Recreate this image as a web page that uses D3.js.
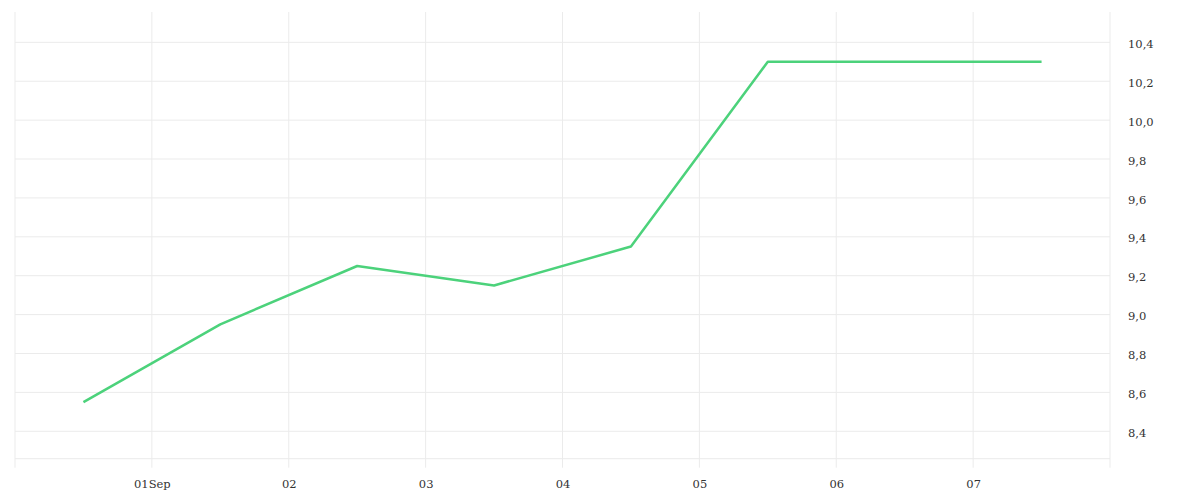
<!DOCTYPE html>
<html>
<head>
<meta charset="utf-8">
<script src="https://cdn.jsdelivr.net/npm/d3@7"></script>
<style>
  body { margin: 0; background: #fff; }
  svg text { font-family: "DejaVu Serif", serif; font-size: 11.5px; fill: #333; }
</style>
</head>
<body>
<div id="grafico"></div>
<script>
// Datos (puntos a mediodía de cada día)
const fechas = ["2023-08-31T12:00", "2023-09-01T12:00", "2023-09-02T12:00", "2023-09-03T12:00",
                "2023-09-04T12:00", "2023-09-05T12:00", "2023-09-06T12:00", "2023-09-07T12:00"];
const valores = [8.55, 8.95, 9.25, 9.15, 9.35, 10.3, 10.3, 10.3];
const yTicks = [8.4, 8.6, 8.8, 9.0, 9.2, 9.4, 9.6, 9.8, 10.0, 10.2, 10.4];
const xDominio = ["2023-08-31T00:00", "2023-09-08T00:00"];
const yDominio = [8.259, 10.556];

const parse = d3.timeParse("%Y-%m-%dT%H:%M");
const datos = fechas.map((f, i) => ({ fecha: parse(f), valor: valores[i] }));

const width = 1200, height = 500;
const margen = { left: 15, right: 1110, top: 12, bottom: 458.7 };

const svg = d3.select("#grafico")
    .append("svg")
    .attr("width", width)
    .attr("height", height);

// Escalas
const x = d3.scaleTime()
    .domain(xDominio.map(parse))
    .range([margen.left, margen.right]);

const y = d3.scaleLinear()
    .domain(yDominio)
    .range([margen.bottom, margen.top]);

const formatoY = d3.formatLocale({ decimal: ",", thousands: ".", grouping: [3], currency: ["", "€"] }).format(".1f");
const formatoX = d => d.getDate() === 1 ? d3.timeFormat("%dSep")(d) : d3.timeFormat("%d")(d);

// Rejilla horizontal
svg.append("g")
    .selectAll("line")
    .data(yTicks)
    .enter()
    .append("line")
    .attr("x1", margen.left)
    .attr("x2", margen.right)
    .attr("y1", d => y(d))
    .attr("y2", d => y(d))
    .attr("stroke", "#ebebeb")
    .attr("stroke-width", 1);

// Línea base
svg.append("line")
    .attr("x1", margen.left)
    .attr("x2", margen.right)
    .attr("y1", margen.bottom)
    .attr("y2", margen.bottom)
    .attr("stroke", "#ebebeb");

// Rejilla vertical (todos los días)
const dias = d3.timeDay.range(x.domain()[0], d3.timeDay.offset(x.domain()[1], 1));
svg.append("g")
    .selectAll("line")
    .data(dias)
    .enter()
    .append("line")
    .attr("x1", d => x(d))
    .attr("x2", d => x(d))
    .attr("y1", margen.top)
    .attr("y2", margen.bottom + 9)
    .attr("stroke", "#ebebeb");

// Eje X
const ejeX = svg.append("g")
    .attr("transform", `translate(0, ${margen.bottom})`)
    .call(d3.axisBottom(x)
        .tickValues(dias.slice(1, -1))
        .tickFormat(formatoX)
        .tickSize(0)
        .tickPadding(21));
ejeX.select(".domain").remove();
ejeX.selectAll("text").attr("font-family", null).attr("font-size", null);

// Eje Y a la derecha
const ejeY = svg.append("g")
    .attr("transform", `translate(${margen.right}, 0)`)
    .call(d3.axisRight(y)
        .tickValues(yTicks)
        .tickFormat(formatoY)
        .tickSize(0)
        .tickPadding(18));
ejeY.select(".domain").remove();
ejeY.selectAll("text").attr("font-family", null).attr("font-size", null).attr("dy", "0.45em");

// Línea
const linea = d3.line()
    .x(d => x(d.fecha))
    .y(d => y(d.valor));

svg.append("path")
    .datum(datos)
    .attr("d", linea)
    .attr("fill", "none")
    .attr("stroke", "#4cd27b")
    .attr("stroke-width", 2.5)
    .attr("stroke-linejoin", "round");
</script>
</body>
</html>
